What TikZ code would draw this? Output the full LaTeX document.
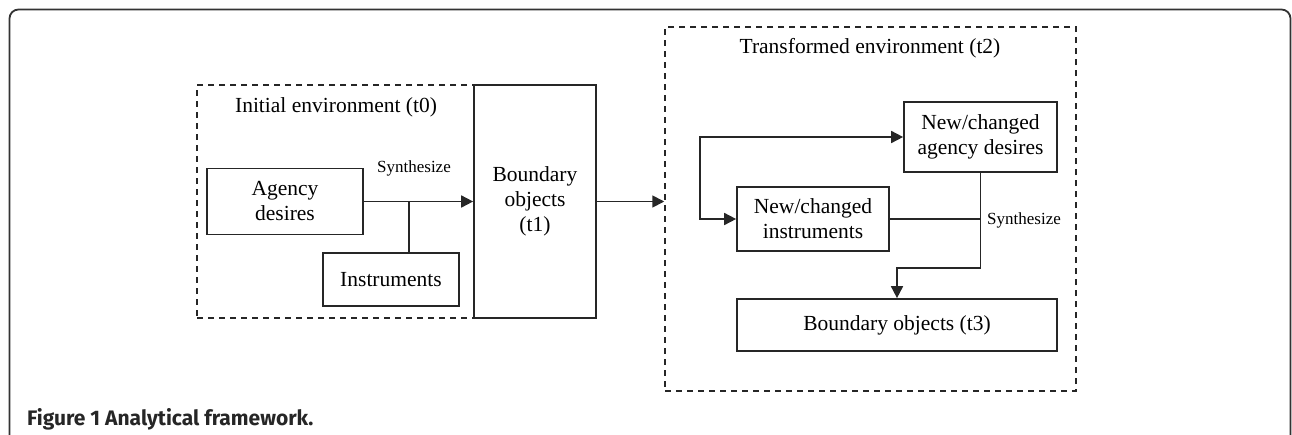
\documentclass[tikz,border=0pt]{standalone}
\usepackage{fontspec}
\setmainfont{Liberation Serif}
\newfontfamily\capfont{Fira Sans}
\usetikzlibrary{arrows.meta}
\tikzset{
  box/.style={draw=black!85, line width=1.7pt, inner sep=0pt, align=center,
              font=\fontsize{21.5}{25}\selectfont},
  envbox/.style={draw=black!85, line width=1.5pt, dash pattern=on 6pt off 5pt, inner sep=0pt},
  envlabel/.style={font=\fontsize{21.5}{25}\selectfont, inner sep=0pt},
  synlabel/.style={font=\fontsize{17}{20}\selectfont, inner sep=0pt},
  conn/.style={draw=black!85, line width=1.7pt},
  arr/.style={conn, -{Triangle[length=12pt,width=12pt]}},
}
\begin{document}
\begin{tikzpicture}[x=1pt,y=-1pt]
\useasboundingbox (0,0) rectangle (1292,434);
% outer figure frame
\draw[black!80, line width=1.8pt, rounded corners=9pt] (9.5,440) -- (9.5,9.5) -- (1290.5,9.5) -- (1290.5,440);

% initial environment
\node[envbox, minimum width=277pt, minimum height=233pt] (env0) at (335.5,201.5) {};
\node[envlabel] (env0lbl) at (336,107) {Initial environment (t0)};
\node[box, minimum width=156pt, minimum height=66pt] (agency) at (285,201.5) {Agency\\desires};
\node[box, minimum width=136pt, minimum height=53pt] (instr) at (391,279.5) {Instruments};
\node[box, minimum width=122pt, minimum height=233pt] (bound1) at (535,201.5) {Boundary\\objects\\(t1)};
\node[synlabel] (syn1) at (414,168) {Synthesize};
\coordinate (j1) at (409,201.5);
\draw[arr] (agency.east) -- (bound1.west);
\draw[conn] (instr.north -| j1) -- (j1);

% transformed environment
\node[envbox, minimum width=411pt, minimum height=364pt] (env2) at (870.5,209) {};
\node[envlabel] (env2lbl) at (870,48) {Transformed environment (t2)};
\node[box, minimum width=153pt, minimum height=70pt] (agency2) at (980.5,137) {New/changed\\agency desires};
\node[box, minimum width=152pt, minimum height=64pt] (instr2) at (813,219) {New/changed\\instruments};
\node[box, minimum width=320pt, minimum height=52pt] (bound3) at (897,325) {Boundary objects (t3)};
\node[synlabel] (syn2) at (1024,220) {Synthesize};

\draw[arr] (bound1.east |- agency.east) -- (env2.west |- agency.east);

% feedback loop to both new/changed boxes
\coordinate (loop) at (700,178);
\draw[arr] (loop) |- (agency2.west);
\draw[arr] (loop) |- (instr2.west);

% synthesis into the new boundary objects
\coordinate (j2) at (agency2.south |- instr2.east);
\coordinate (turn) at (980.5,268);
\draw[conn] (instr2.east) -- (j2);
\draw[arr] (agency2.south) -- (turn) -| (bound3.north);

% caption
\node[anchor=base west, inner sep=0pt, font=\capfont\bfseries\fontsize{21}{24}\selectfont, text=black!85] (cap) at (27,425) {Figure 1 Analytical framework.};
\end{tikzpicture}
\end{document}
